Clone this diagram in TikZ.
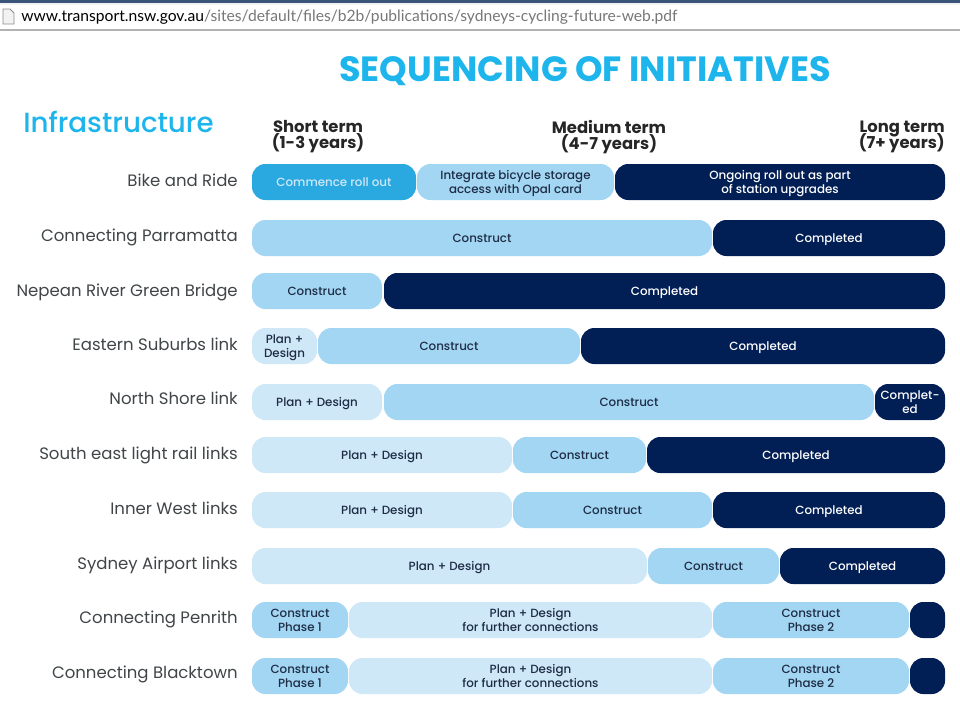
\documentclass[tikz,border=0pt]{standalone}
\usepackage{fontspec}
\setmainfont{Poppins}
\newfontfamily\urlfont{Lato}
\newfontfamily\mediumfont{Poppins Medium}
\definecolor{titlecyan}{HTML}{1DB5EB}
\definecolor{startblue}{HTML}{29A9E0}
\definecolor{buildblue}{HTML}{A3D6F3}
\definecolor{planblue}{HTML}{CFE8F7}
\definecolor{donenavy}{HTML}{011E55}
\definecolor{inkdark}{HTML}{1E2C45}
\definecolor{labelgrey}{HTML}{404548}
\definecolor{urlgrey}{HTML}{777777}
\definecolor{chromeblue}{HTML}{3A5578}
\tikzset{
  barbase/.style={rounded corners=10pt},
  bartext/.style={font=\mediumfont\fontsize{8.9pt}{10.6pt}\selectfont,align=center,yshift=-1.5pt,
    execute at begin node=\strut,execute at end node=\strut},
  startbar/.style={barbase,fill=startblue},
  buildbar/.style={barbase,fill=buildblue},
  planbar/.style={barbase,fill=planblue},
  donebar/.style={barbase,fill=donenavy},
  darktext/.style={bartext,text=inkdark},
  whitetext/.style={bartext,text=white},
  rowlabel/.style={anchor=east,inner xsep=0pt,text=labelgrey,text height=8pt,text depth=2.5pt,yshift=-1.8pt,
    font=\fontsize{12.4pt}{14pt}\selectfont},
  termlabel/.style={font=\fontsize{12.3pt}{12pt}\selectfont\bfseries,text=black!85,align=center,
    execute at begin node={\lineskiplimit=-6pt\relax}}
}
\begin{document}
\begin{tikzpicture}[x=0.75pt,y=-0.75pt]
  \useasboundingbox (0,0) rectangle (960,708);
  %barra do navegador
  \fill[black!5] (0,0) rectangle (960,30);
  \fill[white] (0,5) rectangle (960,29);
  \fill[chromeblue] (0,0) rectangle (960,3);
  \draw[black!30,line width=0.8pt] (0,30) -- (960,30);
  \draw[black!45,fill=black!5,line width=0.6pt] (3,9) -- (10,9) -- (14,13) -- (14,24) -- (3,24) -- cycle;
  \node[anchor=west,inner sep=0pt,font=\urlfont\fontsize{11.73pt}{14pt}\selectfont] (url) at (21,17)
    {\textcolor{black}{www.transport.nsw.gov.au}\textcolor{urlgrey}{/sites/default/files/b2b/publications/sydneys-cycling-future-web.pdf}};

  %titulos
  \node[text=titlecyan,font=\fontsize{26.3pt}{26pt}\selectfont\bfseries] (title) at (585,71) {SEQUENCING OF INITIATIVES};
  \node[text=titlecyan,font=\mediumfont\fontsize{20.8pt}{21pt}\selectfont,anchor=west,inner sep=0pt] (infra) at (23,122) {Infrastructure};
  \node[termlabel] (short) at (318,137) {Short term\\(1-3 years)};
  \node[termlabel] (medium) at (609,137) {Medium term\\(4-7 years)};
  \node[termlabel,anchor=east,align=right,inner xsep=0pt] (long) at (945,137) {Long term\\(7+ years)};

  %nomes das linhas
  \node[rowlabel] (bike) at (238,180) {Bike and Ride};
  \node[rowlabel] (parra) at (238,235) {Connecting Parramatta};
  \node[rowlabel] (nepean) at (238,290) {Nepean River Green Bridge};
  \node[rowlabel] (eastern) at (238,344) {Eastern Suburbs link};
  \node[rowlabel] (north) at (238,398) {North Shore link};
  \node[rowlabel] (south) at (238,453) {South east light rail links};
  \node[rowlabel] (inner) at (238,508) {Inner West links};
  \node[rowlabel] (airport) at (238,563) {Sydney Airport links};
  \node[rowlabel] (penrith) at (238,617) {Connecting Penrith};
  \node[rowlabel] (blacktown) at (238,672) {Connecting Blacktown};

  %Bike and Ride
  \path[startbar] (252,164) rectangle node[whitetext,text=planblue] (bikea) {Commence roll out} (416,200);
  \path[buildbar] (417,164) rectangle node[darktext] (bikeb) {Integrate bicycle storage\\access with Opal card} (614,200);
  \path[donebar] (615,164) rectangle node[whitetext] (bikec) {Ongoing roll out as part\\of station upgrades} (945,200);

  %Connecting Parramatta
  \path[buildbar] (252,220) rectangle node[darktext] (parraa) {Construct} (712,256);
  \path[donebar] (713,220) rectangle node[whitetext] (parrab) {Completed} (945,256);

  %Nepean River Green Bridge
  \path[buildbar] (252,273) rectangle node[darktext] (nepeana) {Construct} (382,309);
  \path[donebar] (384,273) rectangle node[whitetext] (nepeanb) {Completed} (945,309);

  %Eastern Suburbs link
  \path[planbar] (252,328) rectangle node[darktext] (easterna) {Plan +\\Design} (317,364);
  \path[buildbar] (318,328) rectangle node[darktext] (easternb) {Construct} (580,364);
  \path[donebar] (581,328) rectangle node[whitetext] (easternc) {Completed} (945,364);

  %North Shore link
  \path[planbar] (252,384) rectangle node[darktext] (northa) {Plan + Design} (382,420);
  \path[buildbar] (384,384) rectangle node[darktext] (northb) {Construct} (874,420);
  \path[donebar] (875,384) rectangle node[whitetext] (northc) {Complet-\\ed} (945,420);

  %South east light rail links
  \path[planbar] (252,437) rectangle node[darktext] (southa) {Plan + Design} (512,473);
  \path[buildbar] (513,437) rectangle node[darktext] (southb) {Construct} (646,473);
  \path[donebar] (647,437) rectangle node[whitetext] (southc) {Completed} (945,473);

  %Inner West links
  \path[planbar] (252,492) rectangle node[darktext] (innera) {Plan + Design} (512,528);
  \path[buildbar] (513,492) rectangle node[darktext] (innerb) {Construct} (712,528);
  \path[donebar] (713,492) rectangle node[whitetext] (innerc) {Completed} (945,528);

  %Sydney Airport links
  \path[planbar] (252,548) rectangle node[darktext] (airporta) {Plan + Design} (647,584);
  \path[buildbar] (648,548) rectangle node[darktext] (airportb) {Construct} (779,584);
  \path[donebar] (780,548) rectangle node[whitetext] (airportc) {Completed} (945,584);

  %Connecting Penrith
  \path[buildbar] (252,602) rectangle node[darktext] (penritha) {Construct\\Phase 1} (348,638);
  \path[planbar] (349,602) rectangle node[darktext] (penrithb) {Plan + Design\\for further connections} (712,638);
  \path[buildbar] (713,602) rectangle node[darktext] (penrithc) {Construct\\Phase 2} (909,638);
  \path[donebar] (910,602) rectangle (945,638);

  %Connecting Blacktown
  \path[buildbar] (252,658) rectangle node[darktext] (blacktowna) {Construct\\Phase 1} (348,694);
  \path[planbar] (349,658) rectangle node[darktext] (blacktownb) {Plan + Design\\for further connections} (712,694);
  \path[buildbar] (713,658) rectangle node[darktext] (blacktownc) {Construct\\Phase 2} (909,694);
  \path[donebar] (910,658) rectangle (945,694);
\end{tikzpicture}
\end{document}
